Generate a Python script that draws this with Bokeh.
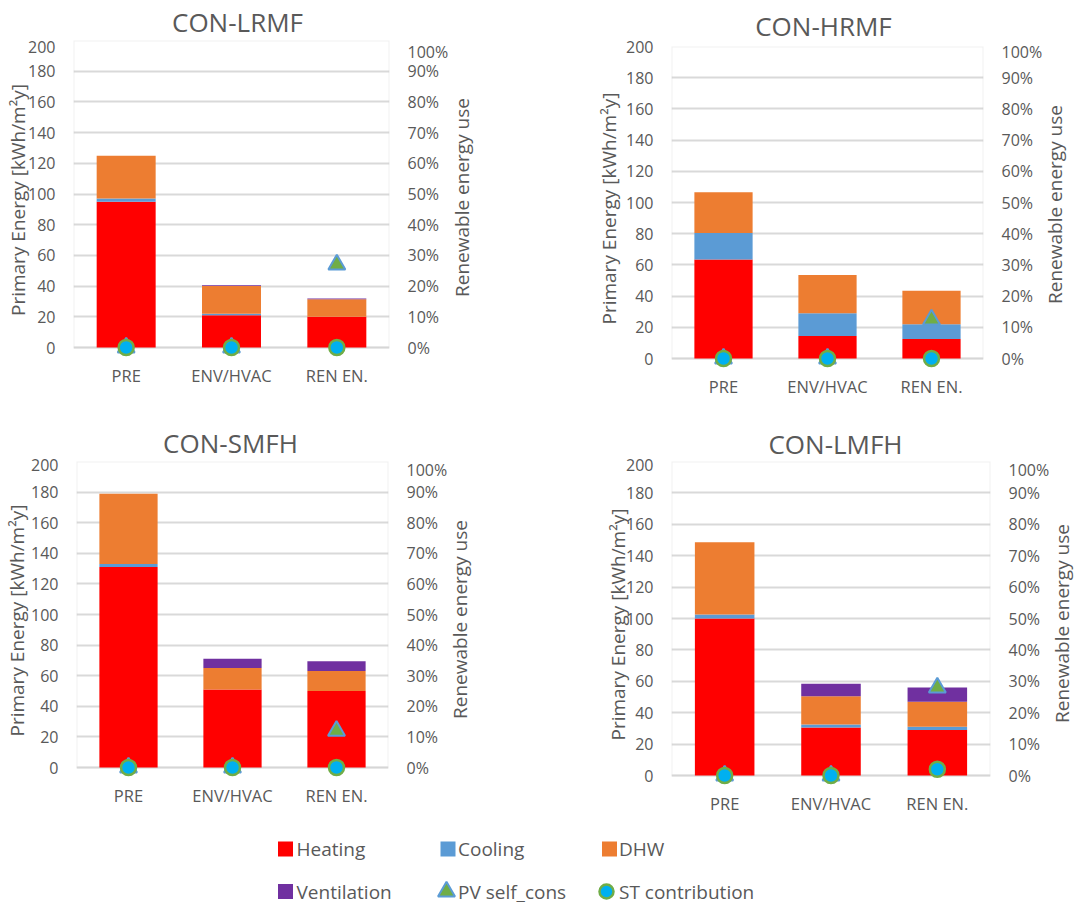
import math
from bokeh.plotting import figure
from bokeh.models import (Range1d, FactorRange, LinearAxis, FixedTicker,
                          NumeralTickFormatter, BoxAnnotation, ColumnDataSource)
from bokeh.layouts import column, row
from bokeh.core.properties import value
from bokeh.embed import file_html
from bokeh.resources import INLINE

# ---------------- data ----------------
categories = ["PRE", "ENV/HVAC", "REN EN."]
series_names = ["Heating", "Cooling", "DHW", "Ventilation", "PV self_cons", "ST contribution"]

titles = ["CON-LRMF", "CON-HRMF", "CON-SMFH", "CON-LMFH"]
left_label = "Primary Energy [kWh/m\u00b2y]"
right_label = "Renewable energy use"

lrmf_heating = [95, 21, 20]
lrmf_cooling = [2, 1, 0]
lrmf_dhw = [28, 18, 11.5]
lrmf_vent = [0, 0.5, 0.5]
lrmf_pv = [0, 0, 27]      # %
lrmf_st = [0, 0, 0]       # %

hrmf_heating = [63.5, 14.5, 12.5]
hrmf_cooling = [17, 14.5, 9.5]
hrmf_dhw = [26, 24.5, 21.5]
hrmf_vent = [0, 0, 0]
hrmf_pv = [0, 0, 12.5]
hrmf_st = [0, 0, 0]

smfh_heating = [131, 51, 50]
smfh_cooling = [2, 0, 0]
smfh_dhw = [46, 14, 13]
smfh_vent = [0, 6, 6.5]
smfh_pv = [0, 0, 12]
smfh_st = [0, 0, 0]

lmfh_heating = [100, 30.5, 29]
lmfh_cooling = [2.5, 2, 2]
lmfh_dhw = [46, 18, 16]
lmfh_vent = [0, 8, 9]
lmfh_pv = [0, 0, 28]
lmfh_st = [0, 0, 2]

left_ticks = list(range(0, 201, 20))
right_ticks = [i / 10 for i in range(11)]

# ---------------- style ----------------
FONT = "Open Sans"
TXT = "#595959"
C_HEAT = "#FF0000"
C_COOL = "#5B9BD5"
C_DHW = "#ED7D31"
C_VENT = "#7030A0"
C_GREEN = "#70AD47"
C_CYAN = "#00B0F0"
GRID = "#D9D9D9"
FRAME = "#CFCFCF"


def make_panel(heating, cooling, dhw, vent, pv, st,
               fw, fh, left, right, top, bottom, lstand, ext=12):
    y0 = -200.0 * ext / (fh - ext)
    p = figure(x_range=FactorRange(*categories), y_range=Range1d(y0, 200),
               frame_width=fw, frame_height=fh,
               min_border_left=left, min_border_right=right,
               min_border_top=top, min_border_bottom=bottom,
               toolbar_location=None, output_backend="svg")
    p.frame_align = False
    p.outline_line_color = None
    p.background_fill_color = "white"
    p.border_fill_color = "white"

    p.extra_y_ranges = {"pct": Range1d(y0 / 200.0, 1.0)}

    lt = FixedTicker(ticks=left_ticks)
    p.yaxis.ticker = lt
    p.ygrid.ticker = lt
    p.ygrid.grid_line_color = GRID
    p.ygrid.grid_line_width = 2
    p.xgrid.visible = False

    rax = LinearAxis(y_range_name="pct", ticker=FixedTicker(ticks=right_ticks),
                     formatter=NumeralTickFormatter(format="0%"))
    p.add_layout(rax, "right")

    p.yaxis[0].axis_label = left_label

    for ax in list(p.yaxis) + list(p.xaxis):
        ax.axis_line_color = None
        ax.major_tick_line_color = None
        ax.minor_tick_line_color = None
        ax.major_tick_out = 0
        ax.major_tick_in = 0
        ax.major_label_text_font = FONT
        ax.major_label_text_font_size = "16px"
        ax.major_label_text_color = TXT
        ax.axis_label_text_font = FONT
        ax.axis_label_text_font_size = "19px"
        ax.axis_label_text_font_style = "normal"
        ax.axis_label_text_color = TXT
    p.yaxis[0].major_label_standoff = 18
    p.yaxis[0].axis_label_standoff = lstand
    rax.major_label_standoff = 18
    p.xaxis.major_label_standoff = 4
    p.xaxis.major_label_text_font_size = "16.5px"

    box = BoxAnnotation(bottom=0, top=200, fill_alpha=0, fill_color=None,
                        line_color=FRAME, line_width=2, level="underlay")
    p.add_layout(box)

    src = ColumnDataSource(dict(cat=categories, Heating=heating, Cooling=cooling,
                                DHW=dhw, Ventilation=vent))
    p.vbar_stack(["Heating", "Cooling", "DHW", "Ventilation"], x="cat", width=0.56,
                 fill_color=[C_HEAT, C_COOL, C_DHW, C_VENT], line_color=None,
                 source=src)

    p.scatter(x=categories, y=[v / 100.0 for v in pv], y_range_name="pct",
              marker="triangle", size=17, fill_color=C_GREEN,
              line_color=C_COOL, line_width=2)
    p.scatter(x=categories, y=[v / 100.0 for v in st], y_range_name="pct",
              marker="circle", size=15, fill_color=C_CYAN,
              line_color=C_GREEN, line_width=2.5)
    return p


def make_strip(w, h, flip=True):
    yr = Range1d(h, 0) if flip else Range1d(0, h)
    s = figure(width=w, height=h, x_range=Range1d(0, w), y_range=yr,
               toolbar_location=None, output_backend="svg",
               min_border=0, min_border_left=0, min_border_right=0,
               min_border_top=0, min_border_bottom=0)
    s.frame_align = False
    s.axis.visible = False
    s.grid.visible = False
    s.outline_line_color = None
    return s


def side_label(w, h, x, y):
    s = make_strip(w, h, flip=False)
    s.text(x=[x], y=[y], text=[right_label], angle=math.pi / 2,
           text_font=value(FONT), text_font_size="19px", text_color=TXT,
           text_baseline="middle", text_align="center")
    return s


# panels (sizes in px; canvas origin is the page origin)
p1 = make_panel(lrmf_heating, lrmf_cooling, lrmf_dhw, lrmf_vent, lrmf_pv, lrmf_st,
                fw=316, fh=319, left=73, right=59, top=0, bottom=59, lstand=-6)
p2 = make_panel(hrmf_heating, hrmf_cooling, hrmf_dhw, hrmf_vent, hrmf_pv, hrmf_st,
                fw=312, fh=324, left=128, right=60, top=6, bottom=48, lstand=1)
p3 = make_panel(smfh_heating, smfh_cooling, smfh_dhw, smfh_vent, smfh_pv, smfh_st,
                fw=312, fh=318, left=76, right=59, top=3, bottom=36, lstand=-2)
p4 = make_panel(lmfh_heating, lmfh_cooling, lmfh_dhw, lmfh_vent, lmfh_pv, lmfh_st,
                fw=319, fh=326, left=128, right=60, top=3, bottom=28, lstand=-8)

s1 = side_label(92, 378, 10, 221)
s2 = side_label(39, 378, 9, 214)
s3 = side_label(93, 357, 9, 196)
s4 = side_label(32, 357, 9, 192)

# ---------------- title strips ----------------
title_kw = dict(text_font=value(FONT), text_font_size="26px", text_color=TXT,
                text_baseline="middle", text_align="center")
t1 = make_strip(1079, 40)
t1.text(x=[237, 823], y=[21, 25], text=titles[0:2], **title_kw)
t2 = make_strip(1079, 40)
t2.text(x=[230, 835], y=[24.5, 25], text=titles[2:4], **title_kw)

# ---------------- legend ----------------
lg = make_strip(1079, 87)
sym_x = [285, 447.5, 609, 285, 446, 606]
sym_y = [31.5, 31.5, 31.5, 74, 74, 74]
txt_x = [296, 457.5, 618.5, 296, 457.5, 618.5]

lg.scatter(x=sym_x[0:4], y=sym_y[0:4], marker="square", size=15,
           fill_color=[C_HEAT, C_COOL, C_DHW, C_VENT], line_color=None)
lg.scatter(x=[sym_x[4]], y=[sym_y[4]], marker="triangle", size=17,
           fill_color=C_GREEN, line_color=C_COOL, line_width=2)
lg.scatter(x=[sym_x[5]], y=[sym_y[5]], marker="circle", size=14,
           fill_color=C_CYAN, line_color=C_GREEN, line_width=2.5)
lg.text(x=txt_x, y=sym_y, text=series_names, text_font=value(FONT),
        text_font_size="19px", text_color=TXT, text_baseline="middle",
        text_align="left")

layout = column(t1, row(p1, s1, p2, s2), t2, row(p3, s3, p4, s4), lg)

open("out.html", "w").write(file_html(layout, INLINE))
